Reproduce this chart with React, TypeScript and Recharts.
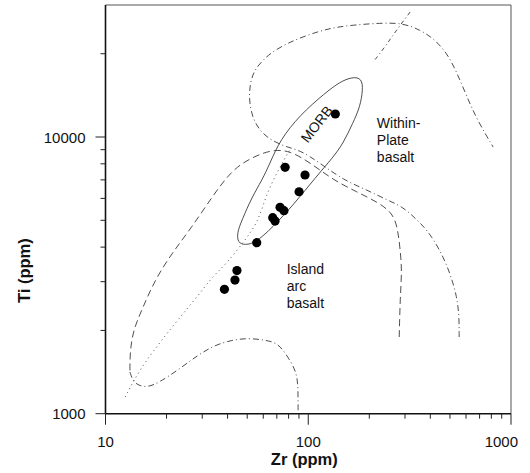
import React from "react";
import { ScatterChart, Scatter, XAxis, YAxis, ReferenceLine, ReferenceDot } from "recharts";

const FONT = "'Liberation Sans', Arial, sans-serif";
const INK = "#3a3a3a";

const ZR_TICKS = [10, 20, 30, 40, 50, 60, 70, 80, 90, 100, 200, 300, 400, 500, 600, 700, 800, 900, 1000];
const TI_TICKS = [1000, 2000, 3000, 4000, 5000, 6000, 7000, 8000, 9000, 10000, 20000];
const MAJOR_TICKS = [10, 100, 1000, 10000];

// samples
const SAMPLE_ZR = [136, 76.9, 96.4, 90.1, 72.6, 75.9, 66.8, 68.6, 55.7, 44.5, 43.5, 38.6];
const SAMPLE_TI = [12110, 7770, 7290, 6340, 5570, 5415, 5110, 4970, 4150, 3290, 3040, 2815];

// field boundaries, [Zr, Ti]
const WPB_LINE: [number, number][] = [
  [555, 1893], [555, 2236], [542, 2641], [501, 3224], [447, 3905], [386, 4613], [344, 5012],
  [294, 5585], [245, 5921], [195, 6434], [149, 6992], [114, 8055], [91, 8975], [77, 9204],
  [61, 10000], [53, 11520], [50.5, 14190], [53, 17030], [58, 18510], [65, 20120], [79, 21860],
  [99, 23370], [128, 24770], [166, 25390], [226, 25820], [294, 25820], [356, 24360], [413, 22790],
  [484, 20120], [542, 17030], [607, 13950], [681, 11520], [816, 9204],
];
const WPB_SPUR: [number, number][] = [[318, 28290], [268, 23960], [239, 21150], [209, 18670]];
const ARC_LINE: [number, number][] = [
  [281, 1893], [284, 2641], [290, 3306], [284, 3905], [277, 4613], [262, 5313], [219, 5823],
  [174, 6328], [133, 6992], [106, 7921], [81, 8975], [65, 8975], [52, 8397], [42, 7598],
  [33.5, 6070], [26.7, 4730], [21.3, 3808], [17.5, 3042], [15.1, 2370], [13.7, 2006],
  [13.2, 1671], [13.2, 1415],
];
const ARC_BASE: [number, number][] = [
  [13.2, 1415], [13.7, 1302], [14.8, 1259], [16.2, 1249], [18.2, 1291], [22.8, 1439],
  [28.6, 1630], [34.7, 1772], [42.1, 1846], [50.5, 1877], [61.2, 1846], [71, 1801],
  [79.5, 1603], [88.1, 1403], [89.1, 1218], [89.1, 1000],
];
const ARC_INNER: [number, number][] = [
  [12.5, 1149], [14.8, 1451], [18, 1757], [21.5, 2075], [25.2, 2389], [29.3, 2731],
  [33.9, 3145], [39.8, 3504], [48.8, 4245], [56.6, 4930], [61.9, 6170], [71, 7598], [81, 8975],
];
const MORB_FIELD: [number, number][] = [
  [45, 4140], [44.5, 4498], [47.1, 5012], [52.8, 6070], [59.2, 6992], [64.8, 8055],
  [72.6, 9754], [91, 12010], [121, 14420], [143, 15810], [165, 16500], [184, 16300],
  [186, 14790], [180, 12840], [166, 11230], [149, 9512], [133, 8467], [108, 7109],
  [86, 5775], [66.3, 4690], [54.7, 4140], [48.8, 4071],
];

const samples = SAMPLE_ZR.map((zr, i) => ({ zr, ti: SAMPLE_TI[i] }));
const toPts = (pts: [number, number][]) => pts.map(([zr, ti]) => ({ zr, ti }));

function XTick({ x, y, payload }: any) {
  const v = payload.value;
  const major = MAJOR_TICKS.includes(v);
  const last = v === 1000;
  return (
    <g>
      <line x1={x} x2={x} y1={y} y2={y + (major ? 11 : 5)} stroke="#222" strokeWidth={1} />
      {major && (
        <text x={last ? x + 7 : x} y={y + 33} textAnchor={last ? "end" : "middle"}
          fontSize={15} fontFamily={FONT} fill="#111">{v}</text>
      )}
    </g>
  );
}

function YTick({ x, y, payload }: any) {
  const v = payload.value;
  const major = MAJOR_TICKS.includes(v);
  return (
    <g>
      <line x1={x} x2={x - (major ? 10 : 5)} y1={y} y2={y} stroke="#222" strokeWidth={1} />
      {major && (
        <text x={x - 20} y={y + 5.5} textAnchor="end" fontSize={15} fontFamily={FONT} fill="#111">{v}</text>
      )}
    </g>
  );
}

function XTitle({ viewBox }: any) {
  const { x, y, width } = viewBox;
  return (
    <text x={x + width / 2 - 4} y={y + 51} textAnchor="middle" fontSize={16.5} fontWeight="bold"
      fontFamily={FONT} fill="#111">Zr (ppm)</text>
  );
}

function YTitle({ viewBox }: any) {
  const { x, y, height } = viewBox;
  const cx = x + 25;
  const cy = y + height * 0.65;
  return (
    <text x={cx} y={cy} transform={`rotate(-90 ${cx} ${cy})`} textAnchor="middle" fontSize={16.5}
      fontWeight="bold" fontFamily={FONT} fill="#111">Ti (ppm)</text>
  );
}

function FieldLabel({ viewBox, lines, rot = 0, anchor = "start" }: any) {
  const { x, y } = viewBox;
  return (
    <text x={x} y={y} transform={rot ? `rotate(${rot} ${x} ${y})` : undefined} textAnchor={anchor}
      dominantBaseline={rot ? "central" : undefined} fontSize={14} fontFamily={FONT} fill="#111">
      {lines.map((t: string, i: number) => (
        <tspan key={t} x={x} dy={i === 0 ? 0 : 17}>{t}</tspan>
      ))}
    </text>
  );
}

const noDot = () => <g />;
const dot = (p: any) => <circle cx={p.cx} cy={p.cy} r={4.6} fill="#000" />;

function boundary(pts: [number, number][], dash: string, jt: any = "basis", width = 0.9) {
  return (
    <Scatter data={toPts(pts)} shape={noDot} line={{ stroke: INK, strokeWidth: width, strokeDasharray: dash }}
      lineJointType={jt} isAnimationActive={false} />
  );
}

export default function App() {
  return (
    <div style={{ position: "absolute", left: 0, top: 0, background: "#fff" }}>
      <ScatterChart width={530} height={473} margin={{ top: 5, right: 19, bottom: 0, left: 5.5 }}>
        <XAxis type="number" dataKey="zr" scale="log" domain={[10, 1000]} ticks={ZR_TICKS} interval={0}
          allowDataOverflow tick={<XTick />} tickLine={false} tickSize={0} tickMargin={0} height={59.3}
          axisLine={{ stroke: "#111", strokeWidth: 1.6 }} label={<XTitle />} />
        <YAxis type="number" dataKey="ti" scale="log" domain={[1000, 30000]} ticks={TI_TICKS} interval={0}
          allowDataOverflow tick={<YTick />} tickLine={false} tickSize={0} tickMargin={0} width={100}
          axisLine={{ stroke: "#111", strokeWidth: 1.6 }} label={<YTitle />} />
        <ReferenceLine y={30000} stroke="#555" strokeWidth={1} />
        <ReferenceLine x={1000} stroke="#555" strokeWidth={1} />
        {boundary(WPB_LINE, "6 3 1 3")}
        {boundary(WPB_SPUR, "4 3 1 3")}
        {boundary(ARC_LINE, "7 4")}
        {boundary(ARC_BASE, "6 3 1 3")}
        {boundary(ARC_INNER, "1 3.5")}
        {boundary(MORB_FIELD, "0", "basisClosed", 0.9)}
        <Scatter data={samples} shape={dot} isAnimationActive={false} />
        <ReferenceDot x={110} y={11140} r={0} fill="none" stroke="none"
          label={<FieldLabel lines={["MORB"]} rot={-52} anchor="middle" />} />
        <ReferenceDot x={218} y={10780} r={0} fill="none" stroke="none"
          label={<FieldLabel lines={["Within-", "Plate", "basalt"]} />} />
        <ReferenceDot x={78.3} y={3206} r={0} fill="none" stroke="none"
          label={<FieldLabel lines={["Island", "arc", "basalt"]} />} />
      </ScatterChart>
    </div>
  );
}
